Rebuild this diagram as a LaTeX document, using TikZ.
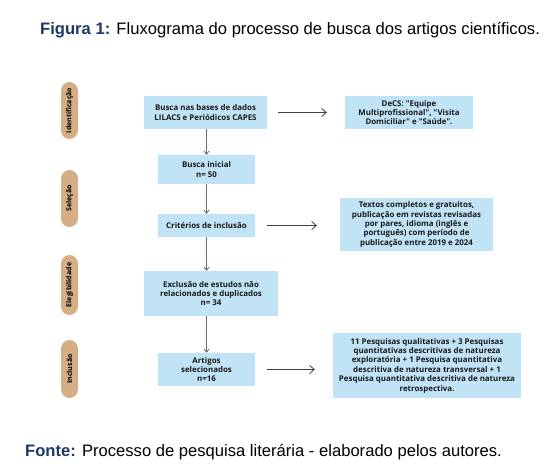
\documentclass[tikz,border=0pt]{standalone}
\usepackage{fontspec}
\setmainfont{Liberation Sans}
\newfontfamily\boxfont{Open Sans}
\usepackage{xcolor}
\usepackage{tikz}
\usetikzlibrary{arrows.meta,positioning,calc}
\definecolor{boxBlue}{HTML}{C0E3F5}
\definecolor{pillTan}{HTML}{D4AE85}
\definecolor{capNavy}{HTML}{1F3864}
\definecolor{lineGray}{HTML}{5A5A5A}

\tikzset{
  box/.style={fill=boxBlue, draw=none, align=center, inner sep=1pt,
    text=black!90, font=\boxfont\bfseries\fontsize{7.9}{9.4}\selectfont},
  pill/.style={fill=pillTan, draw=none, rotate=90, minimum height=17,
    rounded corners=8.5, inner sep=0pt,
    font=\boxfont\bfseries\fontsize{7}{7}\selectfont},
  down/.style={lineGray!90, line width=0.8pt, -{Straight Barb[length=3pt,width=5pt]}},
  side/.style={black!75, line width=0.8pt, -{Straight Barb[length=4.5pt,width=8pt]}},
}

\begin{document}
\begin{tikzpicture}[x=1pt, y=-1pt]
  \useasboundingbox (0,0) rectangle (553,470);
  % caption
  \node[anchor=west, inner sep=0pt, font=\fontsize{16.6}{19}\selectfont] (figura) at (40,30)
    {\textcolor{capNavy}{\textbf{Figura 1:}} Fluxograma do processo de busca dos artigos científicos.};
  % phases
  \node[pill, minimum width=57] (ident) at (69.5,110.5) {Identificação};
  \node[pill, minimum width=57] (selec) at (69.5,198.5) {Seleção};
  \node[pill, minimum width=60] (eleg)  at (69.5,285)   {Elegibilidade};
  \node[pill, minimum width=58] (incl)  at (69.5,369)   {Inclusão};
  % main column
  \node[box, minimum width=123, minimum height=33] (bases) at (205.5,112.5)
    {Busca nas bases de dados\\LILACS e Periódicos CAPES};
  \node[box, minimum width=97, minimum height=29] (inicial) at (206.5,169.5)
    {Busca inicial\\n= 50};
  \node[box, minimum width=97, minimum height=23] (criterios) at (206.5,225.5)
    {Critérios de inclusão};
  \node[box, minimum width=134, minimum height=45] (exclusao) at (211,293.5)
    {Exclusão de estudos não\\relacionados e duplicados\\n= 34};
  \node[box, minimum width=97, minimum height=33] (artigos) at (206.5,369.5)
    {Artigos\\selecionados\\n=16};
  % side notes
  \node[box, minimum width=128, minimum height=33] (decs) at (409,112.5)
    {DeCS: "Equipe\\Multiprofissional", "Visita\\Domiciliar" e "Saúde".};
  \node[box, minimum width=153, minimum height=53] (textos) at (416.5,224.5)
    {Textos completos e gratuitos,\\publicação em revistas revisadas\\por pares, idioma (inglês e\\português) com período de\\publicação entre 2019 e 2024};
  \node[box, minimum width=188, minimum height=65] (pesquisas) at (427,365.5)
    {11 Pesquisas qualitativas + 3 Pesquisas\\quantitativas descritivas de natureza\\exploratória + 1 Pesquisa quantitativa\\descritiva de natureza transversal + 1\\Pesquisa quantitativa descritiva de natureza\\retrospectiva.};
  % flow
  \draw[down] (bases.south -| inicial) -- (inicial.north);
  \draw[down] (inicial) -- (criterios);
  \draw[down] (criterios.south) -- (criterios.south |- exclusao.north);
  \draw[down] (artigos.north |- exclusao.south) -- (artigos.north);
  \draw[side, shorten <=11pt, shorten >=18pt] (bases.east) -- (decs.west);
  \draw[side, shorten <=12pt, shorten >=23pt] (criterios.east) -- (criterios.east -| textos.west);
  \draw[side, shorten <=12pt, shorten >=18pt] (artigos.east) -- (artigos.east -| pesquisas.west);
  % source
  \node[anchor=west, inner sep=0pt, font=\fontsize{16.6}{19}\selectfont] (fonte) at (25,452)
    {\textcolor{capNavy}{\textbf{Fonte:}} Processo de pesquisa literária - elaborado pelos autores.};
\end{tikzpicture}
\end{document}
